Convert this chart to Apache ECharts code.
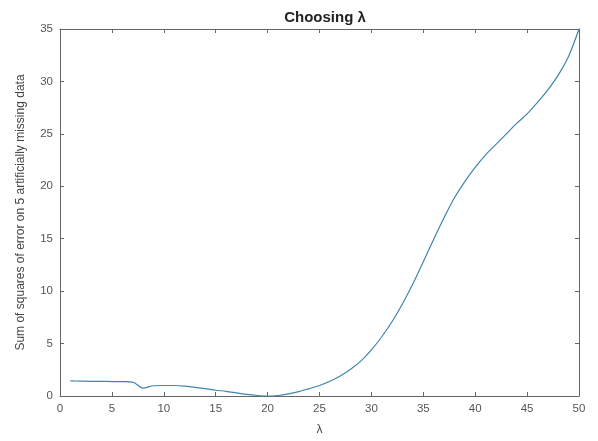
<!DOCTYPE html>
<html>
<head>
<meta charset="utf-8">
<script src="https://cdn.jsdelivr.net/npm/echarts@6/dist/echarts.min.js"></script>
<style>html,body{margin:0;padding:0;background:#fff}#c{width:598px;height:441px}</style>
</head>
<body>
<div id="c"></div>
<script>
const lambdas = [1,2,3,4,5,6,7,8,9,10,11,12,13,14,15,16,17,18,19,20,21,22,23,24,25,26,27,28,29,30,31,32,33,34,35,36,37,38,39,40,41,42,43,44,45,46,47,48,49,50];
const sse = [1.45,1.42,1.40,1.40,1.38,1.37,1.33,0.75,0.98,1.0,1.0,0.95,0.82,0.7,0.55,0.45,0.3,0.15,0.05,0.0,0.05,0.2,0.42,0.7,1.0,1.4,1.9,2.55,3.35,4.4,5.65,7.1,8.8,10.7,12.8,14.95,17.0,18.9,20.45,21.8,23.0,24.0,25.0,26.0,26.9,28.0,29.2,30.6,32.4,35.0];
const xTicks = [0,5,10,15,20,25,30,35,40,45,50];
const yTicks = [0,5,10,15,20,25,30,35];
const titleText = 'Choosing λ';
const xName = 'λ';
const yName = 'Sum of squares of error on 5 artificially missing data';

const font = 'Liberation Sans, Arial, sans-serif';
const axisCol = '#666';
const chart = echarts.init(document.getElementById('c'));
function axis(extra) {
  return Object.assign({
    min: 0,
    interval: 5,
    axisLine: {show: true, onZero: false, lineStyle: {color: axisCol, width: 1}},
    axisTick: {show: true, inside: true, length: 4, lineStyle: {color: axisCol}},
    splitLine: {show: false},
    axisLabel: {color: '#555', fontSize: 11.5, fontFamily: font, margin: 7}
  }, extra);
}
chart.setOption({
  animation: false,
  backgroundColor: '#fff',
  title: {
    text: titleText, left: 320, top: 5, textAlign: 'center',
    textStyle: {fontSize: 15, fontWeight: 'bold', color: '#222', fontFamily: font}
  },
  grid: {left: 60, right: 19, top: 29, bottom: 43},
  xAxis: [
    axis({type: 'value', max: xTicks[xTicks.length-1], position: 'bottom',
      name: xName, nameLocation: 'middle', nameGap: 28,
      nameTextStyle: {fontSize: 12, color: '#444', fontFamily: font}}),
    axis({type: 'value', max: xTicks[xTicks.length-1], position: 'top',
      axisLabel: {show: false}})
  ],
  yAxis: [
    axis({type: 'value', max: yTicks[yTicks.length-1], position: 'left',
      name: yName, nameLocation: 'middle', nameGap: 33,
      nameTextStyle: {fontSize: 12, color: '#444', fontFamily: font}}),
    axis({type: 'value', max: yTicks[yTicks.length-1], position: 'right',
      axisLabel: {show: false}})
  ],
  series: [{
    type: 'line',
    data: lambdas.map((l, i) => [l, sse[i]]),
    showSymbol: false,
    smooth: 0.3,
    lineStyle: {color: '#3f86ad', width: 1.2},
    xAxisIndex: 0, yAxisIndex: 0
  }]
});
</script>
</body>
</html>
